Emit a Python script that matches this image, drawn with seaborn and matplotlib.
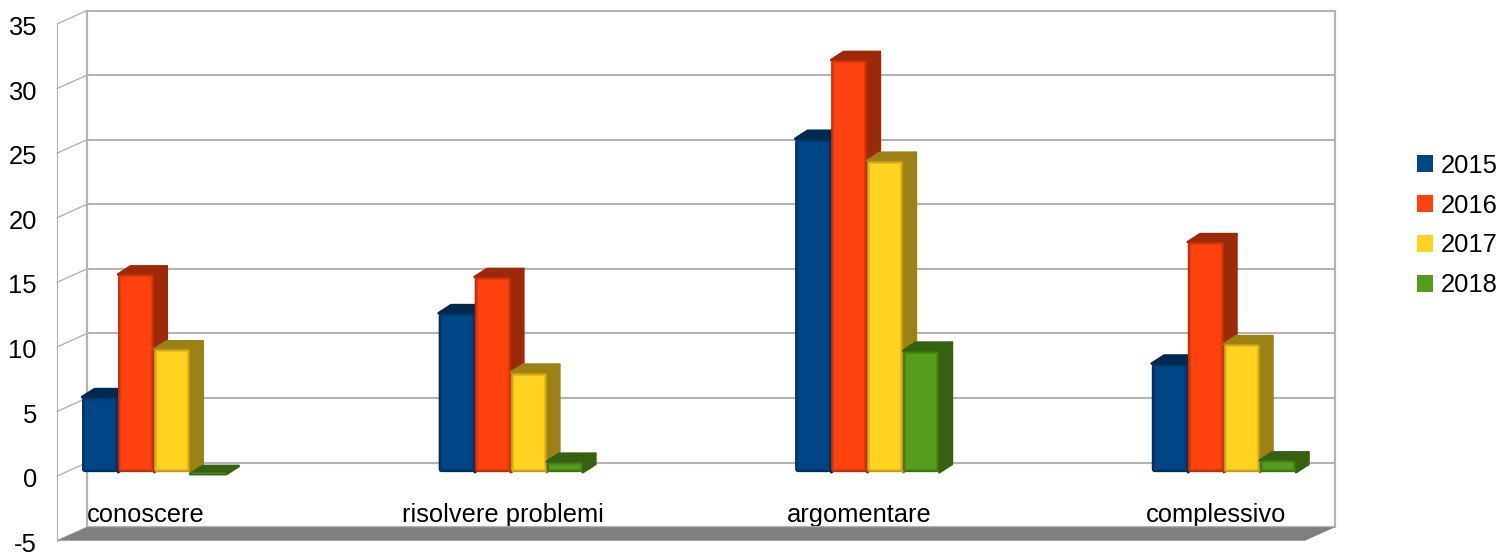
import matplotlib
matplotlib.use("Agg")
import matplotlib.pyplot as plt
import numpy as np
import pandas as pd
import seaborn as sns
from matplotlib.patches import FancyBboxPatch, Patch, Polygon
from matplotlib.patheffects import AbstractPathEffect
from matplotlib.transforms import Affine2D, IdentityTransform

categories = ["conoscere", "risolvere problemi", "argomentare", "complessivo"]
years = ["2015", "2016", "2017", "2018"]
values_2015 = [5.8, 12.3, 25.8, 8.4]
values_2016 = [15.3, 15.1, 31.9, 17.8]
values_2017 = [9.5, 7.7, 24.1, 9.9]
values_2018 = [-0.15, 0.8, 9.4, 0.9]
y_ticks = [-5, 0, 5, 10, 15, 20, 25, 30, 35]

face_colors = ["#004586", "#ff420e", "#ffd320", "#579d1c"]
bevel_colors = ["#00284f", "#a82a06", "#b08a10", "#34660c"]
side_colors = ["#00294f", "#9c2908", "#9c8214", "#356110"]
wall_color = "#b3b3b3"
floor_color = "#808080"

# Pixel offsets of the pseudo-3D box: wall depth, bar placement and bar depth
WALL_DX, WALL_DY = 30, 13.5
BAR_DX, BAR_DY = 8, 4
DEPTH_DX, DEPTH_DY = 12.5, 8
W, H = 1502, 554
FONT_SIZE = 18.4


class Bevel(AbstractPathEffect):
    """Fill the path, then lay translucent strokes over its outline."""

    def __init__(self, color, strokes):
        super().__init__()
        self.color = color
        self.strokes = strokes

    def draw_path(self, renderer, gc, tpath, affine, rgbFace=None):
        renderer.draw_path(gc, tpath, affine, rgbFace)
        for width, alpha in self.strokes:
            gc0 = renderer.new_gc()
            gc0.copy_properties(gc)
            gc0.set_foreground(self.color)
            gc0.set_linewidth(width)
            gc0.set_alpha(alpha)
            renderer.draw_path(gc0, tpath, affine, None)
            gc0.restore()


sns.set_theme(style="white")
plt.rcParams["font.family"] = ["Liberation Sans", "DejaVu Sans"]
plt.rcParams["text.color"] = "black"
plt.rcParams["axes.unicode_minus"] = False

df = pd.DataFrame(
    {
        "categoria": np.tile(categories, len(years)),
        "anno": np.repeat(years, len(categories)),
        "valore": values_2015 + values_2016 + values_2017 + values_2018,
    }
)

fig = plt.figure(figsize=(W / 100, H / 100), dpi=100, facecolor="white")
ax = fig.add_axes([57 / W, (H - 540.7) / H, 1248 / W, 516.7 / H], facecolor="none")

sns.barplot(
    data=df, x="categoria", y="valore", hue="anno", order=categories,
    hue_order=years, palette=face_colors, width=0.404, gap=0, saturation=1,
    linewidth=0, legend=False, ax=ax,
)
ax.set_xlim(-0.25, 3.25)
ax.set_ylim(-5, 35)
ax.set_yticks(y_ticks)
ax.set_xlabel("")
ax.set_ylabel("")
for side in ("top", "right", "bottom"):
    ax.spines[side].set_visible(False)
ax.spines["left"].set_color(wall_color)
ax.spines["left"].set_linewidth(0.8)
ax.tick_params(axis="y", length=0, pad=14.4, labelsize=FONT_SIZE, labelcolor="black")
ax.tick_params(axis="x", length=0, pad=-27.5, labelsize=FONT_SIZE, labelcolor="black")
for label in ax.get_yticklabels():
    label.set_transform(label.get_transform() + Affine2D().translate(0, -1.6))

# Back wall and floor, derived from the front plane of the axes
back = ax.transData + Affine2D().translate(WALL_DX, WALL_DY)
x_min, x_max = ax.get_xlim()
for v in y_ticks:
    ax.plot([x_min, x_max], [v, v], color=wall_color, lw=1.5, transform=back,
            clip_on=False, zorder=1, solid_capstyle="butt")
    p0 = ax.transData.transform((x_min, v))
    p1 = back.transform((x_min, v))
    ax.plot([p0[0], p1[0]], [p0[1], p1[1]], color=wall_color, lw=1.0,
            transform=IdentityTransform(), clip_on=False, zorder=1)
for x in (x_min, x_max):
    ax.plot([x, x], [-5, 35], color=wall_color, lw=1.6, transform=back,
            clip_on=False, zorder=1)

floor = [ax.transData.transform((x_min, -5)), back.transform((x_min, -5)),
         back.transform((x_max, -5)), ax.transData.transform((x_max, -5))]
ax.add_patch(Polygon(floor, closed=True, facecolor=floor_color, edgecolor="none",
                     transform=IdentityTransform(), clip_on=False, zorder=1.5))

# Give each bar its depth faces and a soft rounded bevel on the front face
shift = ax.transData + Affine2D().translate(BAR_DX, BAR_DY)
for h, container in enumerate(ax.containers):
    for bar in container:
        x0, w = bar.get_x(), bar.get_width()
        value = bar.get_y() + bar.get_height()
        bl = shift.transform((x0, 0))
        tl = shift.transform((x0, value))
        tr = shift.transform((x0 + w, value))
        br = shift.transform((x0 + w, 0))
        offset = np.array([DEPTH_DX, DEPTH_DY])

        depth_faces = [[tl, tr, tr + offset, tl + offset]]
        if value > 0:
            depth_faces.append([br, tr, tr + offset, br + offset])
        for pts in depth_faces:
            ax.add_patch(Polygon(pts, closed=True, facecolor=side_colors[h],
                                 edgecolor=side_colors[h], lw=2.0, joinstyle="round",
                                 transform=IdentityTransform(), clip_on=False,
                                 zorder=3 + 2 * h))

        bar.set_transform(shift)
        bar.set_linewidth(0)
        bar.set_zorder(4 + 2 * h)
        strokes = [(4.5, 0.3), (2.8, 0.4), (1.4, 0.5)] if value > 0.5 else [(1.0, 0.8)]
        bar.set_path_effects([Bevel(bevel_colors[h], strokes)])
        y_low, y_high = sorted((bl[1], tl[1]))
        box = FancyBboxPatch(
            (bl[0], y_low), br[0] - bl[0], y_high - y_low,
            boxstyle=f"round,pad=0,rounding_size={min(3.5, (y_high - y_low) / 2):.2f}",
            transform=IdentityTransform(),
        )
        bar.set_clip_path(box)

handles = [Patch(facecolor=c, edgecolor="none", label=y) for c, y in zip(face_colors, years)]
fig.legend(
    handles=handles, loc="center left", bbox_to_anchor=(1417 / W, (H - 225.5) / H),
    bbox_transform=fig.transFigure, frameon=False, fontsize=FONT_SIZE, borderpad=0,
    borderaxespad=0, handlelength=0.63, handleheight=0.63, handletextpad=0.31,
    labelspacing=0.62,
)

fig.savefig("out.png", dpi=100)
